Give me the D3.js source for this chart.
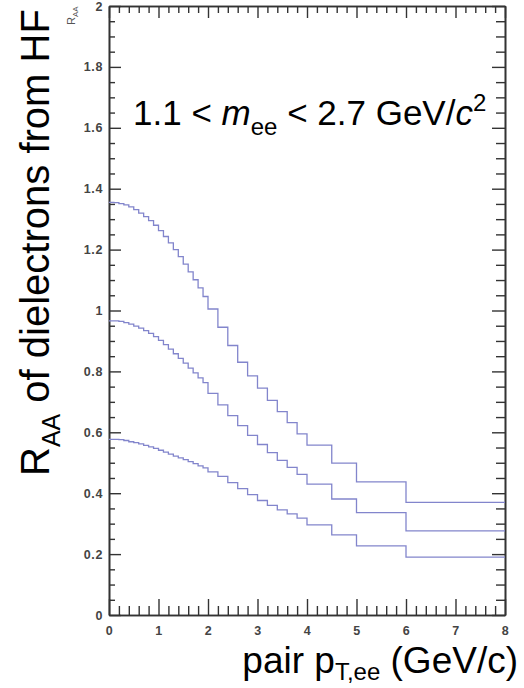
<!DOCTYPE html>
<html>
<head>
<meta charset="utf-8">
<script src="https://cdn.jsdelivr.net/npm/d3@7"></script>
<style>
  body { margin: 0; background: #fff; }
  svg { display: block; font-family: "Liberation Sans", Arial, sans-serif; }
  .tick text { font-family: "Liberation Sans", Arial, sans-serif; font-weight: bold; font-size: 12.5px; letter-spacing: 0.6px; fill: #444; }
</style>
</head>
<body>
<svg id="chart" width="524" height="688"></svg>
<script>
// bin edges of the histograms (GeV/c)
var binEdges = [0, 0.1, 0.2, 0.3, 0.4, 0.5, 0.6, 0.7, 0.8, 0.9, 1.0,
                1.1, 1.2, 1.3, 1.4, 1.5, 1.6, 1.7, 1.8, 1.9, 2.0,
                2.2, 2.4, 2.6, 2.8, 3.0, 3.2, 3.4, 3.6, 3.8, 4.0,
                4.5, 5, 6, 8];

// R_AA per bin, three curves
var upper = [1.355, 1.354, 1.351, 1.347, 1.340, 1.331, 1.320, 1.308, 1.295, 1.280,
             1.262, 1.243, 1.222, 1.200, 1.177, 1.152, 1.127, 1.101, 1.074, 1.046,
             1.005, 0.945, 0.885, 0.830, 0.785, 0.745, 0.705, 0.668, 0.632, 0.595,
             0.558, 0.499, 0.437, 0.370];
var middle = [0.966, 0.966, 0.964, 0.960, 0.955, 0.949, 0.942, 0.934, 0.925, 0.914,
              0.902, 0.888, 0.873, 0.858, 0.843, 0.827, 0.811, 0.795, 0.779, 0.763,
              0.728, 0.690, 0.655, 0.622, 0.590, 0.560, 0.533, 0.508, 0.485, 0.462,
              0.430, 0.381, 0.336, 0.276];
var lower = [0.577, 0.577, 0.576, 0.573, 0.569, 0.566, 0.562, 0.557, 0.552, 0.547,
             0.541, 0.535, 0.528, 0.522, 0.516, 0.510, 0.504, 0.497, 0.490, 0.483,
             0.470, 0.455, 0.435, 0.415, 0.395, 0.376, 0.360, 0.345, 0.332, 0.318,
             0.296, 0.263, 0.227, 0.190];

var xTicks = [0, 1, 2, 3, 4, 5, 6, 7, 8];
var yTicks = [0, 0.2, 0.4, 0.6, 0.8, 1, 1.2, 1.4, 1.6, 1.8, 2];

var svg = d3.select("#chart");
var plotLeft = 109, plotRight = 505, plotTop = 6, plotBottom = 615;

var x = d3.scaleLinear().domain([0, 8]).range([plotLeft, plotRight]);
var y = d3.scaleLinear().domain([0, 2]).range([plotBottom, plotTop]);

var xMinor = d3.range(0, 8.001, 0.2).filter(function(v) { return Math.abs(v - Math.round(v)) > 1e-6; });
var yMinor = d3.range(0, 2.001, 0.05).filter(function(v) { return Math.abs(v * 5 - Math.round(v * 5)) > 1e-6; });
var fmt = function(d) { return String(+d.toFixed(1)); };

function styleAxis(g) {
  g.selectAll("path.domain").attr("stroke", "#333").attr("stroke-width", 1.6);
  g.selectAll(".tick line").attr("stroke", "#333").attr("stroke-width", 1.4);
}

// bottom
svg.append("g").attr("transform", "translate(0," + plotBottom + ")")
  .call(d3.axisBottom(x).tickValues(xMinor).tickSizeInner(-9).tickSizeOuter(0).tickFormat(""))
  .call(styleAxis);
svg.append("g").attr("transform", "translate(0," + plotBottom + ")")
  .call(d3.axisBottom(x).tickValues(xTicks).tickSizeInner(-16).tickSizeOuter(0).tickPadding(11).tickFormat(fmt))
  .call(styleAxis);
// top
svg.append("g").attr("transform", "translate(0," + plotTop + ")")
  .call(d3.axisTop(x).tickValues(xMinor).tickSizeInner(-7).tickSizeOuter(0).tickFormat(""))
  .call(styleAxis);
svg.append("g").attr("transform", "translate(0," + plotTop + ")")
  .call(d3.axisTop(x).tickValues(xTicks).tickSizeInner(-12).tickSizeOuter(0).tickFormat(""))
  .call(styleAxis);
// left
svg.append("g").attr("transform", "translate(" + plotLeft + ",0)")
  .call(d3.axisLeft(y).tickValues(yMinor).tickSizeInner(-6).tickSizeOuter(0).tickFormat(""))
  .call(styleAxis);
svg.append("g").attr("transform", "translate(" + plotLeft + ",0)")
  .call(d3.axisLeft(y).tickValues(yTicks).tickSizeInner(-12).tickSizeOuter(0).tickPadding(6).tickFormat(fmt))
  .call(styleAxis);
// right
svg.append("g").attr("transform", "translate(" + plotRight + ",0)")
  .call(d3.axisRight(y).tickValues(yMinor).tickSizeInner(-9).tickSizeOuter(0).tickFormat(""))
  .call(styleAxis);
svg.append("g").attr("transform", "translate(" + plotRight + ",0)")
  .call(d3.axisRight(y).tickValues(yTicks).tickSizeInner(-13).tickSizeOuter(0).tickFormat(""))
  .call(styleAxis);

// step histograms
var line = d3.line()
  .x(function(d) { return x(d[0]); })
  .y(function(d) { return y(d[1]); })
  .curve(d3.curveStepAfter);

[upper, middle, lower].forEach(function(vals) {
  var pts = vals.map(function(v, i) { return [binEdges[i], v]; });
  pts.push([binEdges[binEdges.length - 1], vals[vals.length - 1]]);
  svg.append("path")
    .attr("d", line(pts))
    .attr("fill", "none")
    .attr("stroke", "#8285cc")
    .attr("stroke-width", 1.3);
});

// annotation
var ann = svg.append("text").attr("x", 133).attr("y", 125)
  .attr("font-size", 35).attr("fill", "#000");
ann.append("tspan").text("1.1 < ");
ann.append("tspan").attr("font-style", "italic").text("m");
ann.append("tspan").attr("font-size", 24).attr("dy", 10).text("ee");
ann.append("tspan").attr("dy", -10).text(" < 2.7 GeV/");
ann.append("tspan").attr("font-style", "italic").text("c");
ann.append("tspan").attr("font-size", 24).attr("dy", -14).text("2");

// y title
var yt = svg.append("text").attr("transform", "translate(49,476) rotate(-90)")
  .attr("font-size", 40).attr("fill", "#000");
yt.append("tspan").text("R");
yt.append("tspan").attr("font-size", 25).attr("dy", 11).text("AA");
yt.append("tspan").attr("dy", -11).text(" of dielectrons from HF");

// x title
var xt = svg.append("text").attr("x", 518).attr("y", 673)
  .attr("text-anchor", "end").attr("font-size", 37).attr("fill", "#000");
xt.append("tspan").text("pair p");
xt.append("tspan").attr("font-size", 24).attr("dy", 7).text("T,ee");
xt.append("tspan").attr("dy", -7).text(" (GeV/c)");

// small corner label
var corner = svg.append("text").attr("transform", "translate(75,25) rotate(-90)")
  .attr("font-size", 11).attr("fill", "#555");
corner.append("tspan").text("R");
corner.append("tspan").attr("font-size", 8).attr("dy", 3).text("AA");
</script>
</body>
</html>
